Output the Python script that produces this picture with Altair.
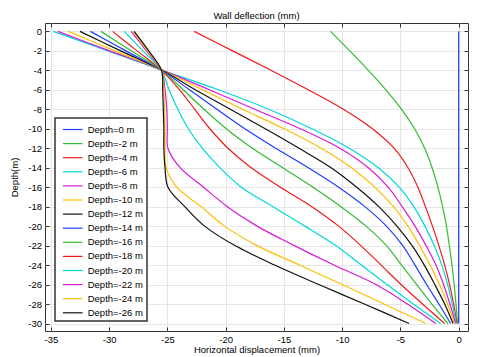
import altair as alt
import pandas as pd

depths = [0, -2, -4, -6, -8, -10, -12, -14, -16, -18, -20, -22, -24, -26, -28, -30]

labels = ["Depth=0 m", "Depth=-2 m", "Depth=-4 m", "Depth=-6 m", "Depth=-8 m",
          "Depth=-10 m", "Depth=-12 m", "Depth=-14 m", "Depth=-16 m", "Depth=-18 m",
          "Depth=-20 m", "Depth=-22 m", "Depth=-24 m", "Depth=-26 m"]

colors = ["#1f3dff", "#33bb33", "#ee1c1c", "#00d8d8", "#d81ad8", "#ffbe00", "#111111",
          "#1f3dff", "#33bb33", "#ee1c1c", "#00d8d8", "#d81ad8", "#ffbe00", "#111111"]

d0 = [0, 0, 0, 0, 0, 0, 0, 0, 0, 0, 0, 0, 0, 0, 0, 0]
d2 = [-11.0, -9.35, -7.75, -6.25, -4.9, -3.78, -2.92, -2.28, -1.78, -1.38, -1.05, -0.8, -0.57, -0.39, -0.23, -0.1]
d4 = [-22.7, -19.4, -16.1, -12.9, -9.9, -7.4, -5.55, -4.35, -3.5, -2.85, -2.25, -1.7, -1.2, -0.78, -0.43, -0.15]
d6 = [-34.8, -30.1, -25.4, -20.6, -16.3, -12.6, -9.4, -6.9, -5.1, -3.85, -2.9, -2.1, -1.45, -0.95, -0.55, -0.2]
d8 = [-34.4, -29.95, -25.4, -21.4, -17.5, -13.6, -10.2, -7.75, -6.05, -4.85, -3.75, -2.8, -1.95, -1.3, -0.75, -0.27]
d10 = [-33.5, -29.5, -25.45, -22.0, -18.55, -15.0, -11.8, -9.2, -7.2, -5.6, -4.35, -3.35, -2.45, -1.65, -0.95, -0.38]
d12 = [-32.5, -29.0, -25.45, -22.6, -19.6, -16.6, -13.7, -10.95, -8.75, -6.85, -5.3, -4.0, -2.95, -2.05, -1.2, -0.49]
d14 = [-31.6, -28.55, -25.5, -23.1, -20.75, -18.35, -15.7, -12.9, -10.3, -8.05, -6.2, -4.8, -3.75, -2.75, -1.7, -0.69]
d16 = [-30.7, -28.1, -25.5, -23.65, -21.85, -19.95, -17.7, -15.1, -12.5, -10.1, -7.95, -6.2, -4.9, -3.6, -2.3, -0.92]
d18 = [-29.7, -27.6, -25.5, -23.95, -22.65, -21.35, -19.8, -17.8, -15.3, -12.6, -10.3, -8.4, -6.65, -4.95, -3.1, -1.21]
d20 = [-28.7, -27.1, -25.5, -24.85, -24.1, -23.2, -22.0, -20.5, -18.65, -15.95, -13.2, -10.55, -8.35, -6.15, -3.9, -1.55]
d22 = [-28.1, -26.8, -25.5, -25.2, -25.05, -25.0, -24.95, -23.9, -21.9, -19.85, -17.3, -14.1, -10.7, -7.1, -4.4, -1.97]
d24 = [-27.95, -26.7, -25.5, -25.3, -25.25, -25.2, -25.2, -25.1, -24.2, -22.1, -20.1, -17.3, -13.65, -10.0, -6.4, -2.83]
d26 = [-27.85, -26.6, -25.5, -25.4, -25.35, -25.3, -25.3, -25.2, -24.95, -23.5, -21.8, -19.2, -15.8, -12.0, -8.1, -4.26]

series = [d0, d2, d4, d6, d8, d10, d12, d14, d16, d18, d20, d22, d24, d26]

x_ticks = [-35, -30, -25, -20, -15, -10, -5, 0]
y_ticks = [0, -2, -4, -6, -8, -10, -12, -14, -16, -18, -20, -22, -24, -26, -28, -30]

rows = []
for lab, vals in zip(labels, series):
    for i, (d, v) in enumerate(zip(depths, vals)):
        rows.append({"series": lab, "depth": d, "disp": v, "idx": i})
df = pd.DataFrame(rows)

FONT = "Liberation Sans"
FS = 9.5

xscale = alt.Scale(domain=[-35.5, 0.8], nice=False, zero=False)
yscale = alt.Scale(domain=[-30.77, 0.86], nice=False, zero=False)

lines = alt.Chart(df).mark_line(strokeWidth=1.2, interpolate="catmull-rom", clip=True).encode(
    x=alt.X("disp:Q", scale=xscale,
            axis=alt.Axis(values=x_ticks, orient="bottom", title="Horizontal displacement (mm)",
                          offset=-4, tickSize=4, domain=False, grid=True,
                          labelExpr="'' + datum.value", labelPadding=3, titlePadding=1)),
    y=alt.Y("depth:Q", scale=yscale,
            axis=alt.Axis(values=y_ticks, orient="left", title="Depth(m)",
                          offset=-4, tickSize=4, domain=False, grid=True,
                          labelExpr="'' + datum.value", labelPadding=3.5, titlePadding=8)),
    color=alt.Color("series:N", sort=labels,
                    scale=alt.Scale(domain=labels, range=colors),
                    legend=alt.Legend(title=None, orient="none", legendX=10, legendY=95,
                                      symbolType="M-1.4,0H1.4", symbolSize=196,
                                      symbolStrokeWidth=1.2, symbolOffset=6.2,
                                      labelOffset=7, padding=3.5, rowPadding=1.1,
                                      fillColor="white", strokeColor="#333333")),
    order=alt.Order("idx:Q"),
)

ticks = alt.Chart(df).mark_line(opacity=0).encode(
    x=alt.X("disp:Q", scale=xscale,
            axis=alt.Axis(values=x_ticks, orient="top", title=None, labels=False,
                          offset=-4, tickSize=4, domain=False, grid=False)),
    y=alt.Y("depth:Q", scale=yscale,
            axis=alt.Axis(values=y_ticks, orient="right", title=None, labels=False,
                          offset=-4, tickSize=4, domain=False, grid=False)),
    detail="series:N",
    order=alt.Order("idx:Q"),
)

chart = alt.layer(lines, ticks).resolve_axis(x="independent", y="independent").properties(
    width=423, height=308,
    padding={"left": 37, "top": 15, "right": 1, "bottom": 25},
    autosize=alt.AutoSizeParams(type="none"),
    title=alt.TitleParams("Wall deflection (mm)", frame="group", anchor="middle", offset=2,
                          font=FONT, fontSize=FS, fontWeight="normal", color="black"),
).configure_view(stroke="#333333", strokeWidth=1).configure_axis(
    labelFont=FONT, labelFontSize=FS, titleFont=FONT, titleFontSize=FS,
    labelColor="black", titleColor="black", titleFontWeight="normal",
    tickColor="#333333", gridColor="#e6e6e6", gridWidth=1,
).configure_legend(labelFont=FONT, labelFontSize=FS, labelColor="black", strokeWidth=1.5)

chart.save("out.html", embed_options={"renderer": "svg", "actions": False})
